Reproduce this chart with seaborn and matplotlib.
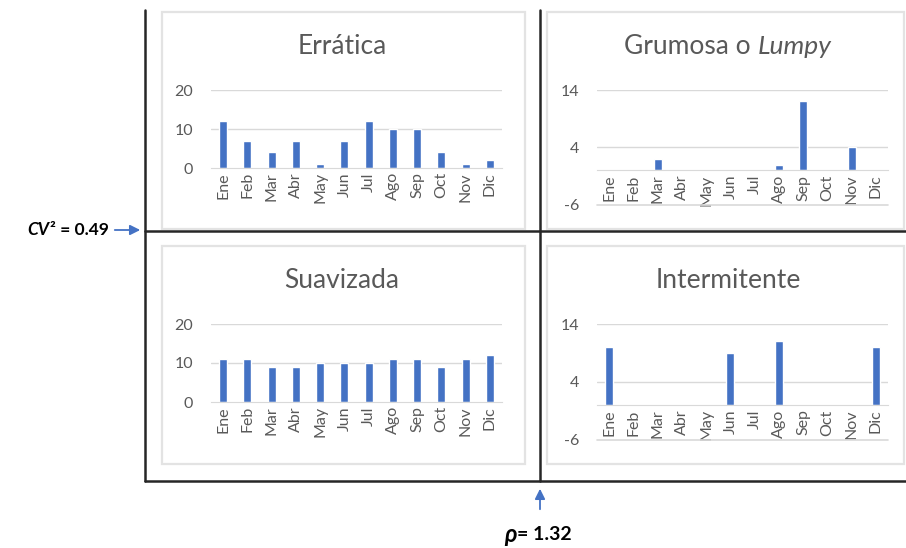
import matplotlib
matplotlib.use("Agg")
import matplotlib.pyplot as plt
import matplotlib.transforms as mtransforms
import seaborn as sns
from matplotlib.lines import Line2D
from matplotlib.patches import Rectangle, FancyArrowPatch

meses = ["Ene", "Feb", "Mar", "Abr", "May", "Jun", "Jul", "Ago", "Sep", "Oct", "Nov", "Dic"]

erratica = [12, 7, 4, 7, 1, 7, 12, 10, 10, 4, 1, 2]
grumosa = [0, 0, 2, 0, 0, 0, 0, 1, 12, 0, 4, 0]
suavizada = [11, 11, 9, 9, 10, 10, 10, 11, 11, 9, 11, 12]
intermitente = [10, 0, 0, 0, 0, 9, 0, 11, 0, 0, 0, 10]

cv2_label = "0.49"
rho_label = "1.32"

sns.set_style("white")
plt.rcParams["font.family"] = ["Lato", "DejaVu Sans"]
plt.rcParams["axes.unicode_minus"] = False

W, H = 906, 548
fig = plt.figure(figsize=(W / 100, H / 100), dpi=100)

BLUE = "#4472C4"
GRAY = "#595959"
GRID = "#D9D9D9"


def fx(px):
    return px / W


def fy(py):
    return 1 - py / H


def runs(xc, yc, parts, size, color):
    # place several text pieces side by side, centred on xc
    r = fig.canvas.get_renderer()
    texts = []
    for s, st in parts:
        kw = {"fontsize": size, "color": color}
        kw.update(st)
        texts.append(fig.text(0, 0, s, ha="left", va="center", **kw))
    widths = [t.get_window_extent(r).width for t in texts]
    cur = xc - sum(widths) / 2
    for t, w in zip(texts, widths):
        t.set_position((fx(cur), fy(yc)))
        cur += w


# panel boxes
for x0, y0, x1, y1 in [(162, 12, 525, 229), (547, 12, 904, 229),
                       (162, 246, 525, 464), (547, 246, 904, 464)]:
    fig.add_artist(Rectangle((fx(x0), fy(y1)), fx(x1 - x0), (y1 - y0) / H,
                             transform=fig.transFigure, fill=False,
                             edgecolor="#E3E3E3", lw=1.6))

# (values, (left px, top px, bottom px), ylim, ticks)
panels = [
    (erratica, (211, 90, 168), (0, 20), [0, 10, 20]),
    (grumosa, (597, 90, 206), (-6.2, 14), [-6, 4, 14]),
    (suavizada, (211, 324, 402), (0, 20), [0, 10, 20]),
    (intermitente, (597, 324, 441), (-6.2, 14), [-6, 4, 14]),
]

low_lines = []
for vals, (left, top, bottom), ylim, ticks in panels:
    ax = fig.add_axes([fx(left), fy(bottom), fx(291), (bottom - top) / H])
    sns.barplot(x=meses, y=vals, color=BLUE, width=0.33, saturation=1, ax=ax,
                zorder=2)
    ax.set_ylim(*ylim)
    ax.set_yticks(ticks)
    ax.set_xlim(-0.5, 11.5)
    ax.grid(False)
    for t in ticks:
        if t > 0:
            ax.axhline(t, color=GRID, lw=1, zorder=1)
        elif t < 0:
            low_lines.append((ax, t))
    for s in ["top", "left", "right"]:
        ax.spines[s].set_visible(False)
    ax.spines["bottom"].set_position(("data", 0))
    ax.spines["bottom"].set_color(GRID)
    ax.tick_params(axis="both", length=0, colors=GRAY, labelsize=11.5)
    ax.tick_params(axis="y", pad=13)
    ax.tick_params(axis="x", pad=3)
    for lab in ax.get_xticklabels():
        lab.set_rotation(90)
    ax.set_xlabel("")
    ax.set_ylabel("")
    ax.patch.set_alpha(0)

# titles
runs(342, 47, [("Errática", {})], 19, GRAY)
runs(728, 47, [("Grumosa o ", {}), ("Lumpy", {"style": "italic"})], 19, GRAY)
runs(342, 281, [("Suavizada", {})], 19, GRAY)
runs(728, 281, [("Intermitente", {})], 19, GRAY)

# black quadrant lines
LC = "#262626"
for xs, ys in [([145, 145], [10, 481]), ([540, 540], [10, 481]),
               ([145, 906], [481, 481]), ([145, 906], [231, 231])]:
    fig.add_artist(Line2D([fx(v) for v in xs], [fy(v) for v in ys],
                          transform=fig.transFigure, color=LC, lw=1.8))

# thresholds
fig.add_artist(FancyArrowPatch((fx(112), fy(230)), (fx(143), fy(230)),
                               transform=fig.transFigure, arrowstyle="-|>",
                               mutation_scale=15, color=BLUE, lw=1.3))
fig.add_artist(FancyArrowPatch((fx(540), fy(512)), (fx(540), fy(486)),
                               transform=fig.transFigure, arrowstyle="-|>",
                               mutation_scale=15, color=BLUE, lw=1.3))
runs(68, 230, [("CV", {"style": "italic", "weight": "bold"}),
               ("² = " + cv2_label, {"weight": "bold"})], 12.5, "black")
runs(538, 535, [("ρ", {"style": "italic", "weight": "bold", "fontsize": 17}),
                ("= " + rho_label, {"weight": "bold"})], 14, "black")

# lowest gridline of the negative-range panels, drawn on top at figure level
for ax, t in low_lines:
    tr = mtransforms.blended_transform_factory(ax.transAxes, ax.transData)
    fig.add_artist(Line2D([0, 1], [t, t], transform=tr, color=GRID,
                          lw=1.2, zorder=5))

fig.savefig("out.png", dpi=100)
